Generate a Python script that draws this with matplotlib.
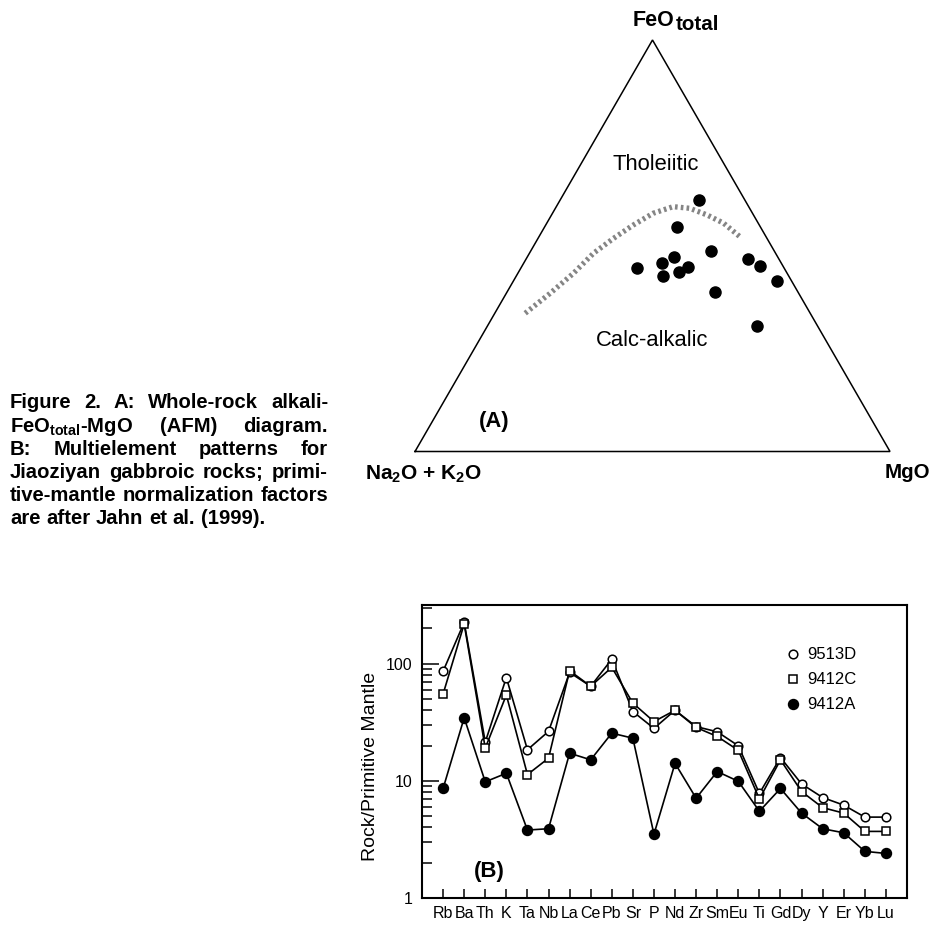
import numpy as np
import matplotlib
matplotlib.use('Agg')
import matplotlib.pyplot as plt
from matplotlib.lines import Line2D
from matplotlib.ticker import LogLocator, NullFormatter

plt.rcParams['font.family'] = ['Liberation Sans', 'DejaVu Sans']
plt.rcParams['mathtext.fontset'] = 'custom'
plt.rcParams['mathtext.rm'] = 'Liberation Sans:bold'
plt.rcParams['mathtext.it'] = 'Liberation Sans:bold'
plt.rcParams['mathtext.bf'] = 'Liberation Sans:bold'

# ---- (A) AFM diagram data, wt% normalised (alkali, FeO total, MgO) ----
afm_alk = [9.7, 17.5, 13.3, 31.0, 25.1, 21.8, 26.5, 22.5, 20.0, 6.6, 4.8, 3.0, 17.4, 12.7]
afm_feo = [61.1, 54.5, 48.8, 44.7, 45.7, 47.3, 42.6, 43.7, 44.9, 46.7, 45.1, 41.4, 38.7, 30.5]
afm_mgo = [29.2, 28.0, 37.9, 24.3, 29.2, 30.9, 30.9, 33.8, 35.1, 46.7, 50.1, 55.6, 43.9, 56.8]

# tholeiitic / calc-alkalic boundary
bnd_alk = [60.0, 52.4, 45.0, 38.3, 32.3, 26.6, 20.9, 15.9, 12.6, 9.8, 7.3, 5.5]
bnd_feo = [33.6, 38.4, 43.3, 48.2, 51.8, 55.0, 57.9, 59.5, 59.1, 57.5, 55.5, 52.2]
bnd_mgo = [6.4, 9.2, 11.7, 13.5, 15.9, 18.4, 21.2, 24.6, 28.3, 32.7, 37.2, 42.3]

# ---- (B) primitive-mantle normalised patterns ----
elements = ['Rb', 'Ba', 'Th', 'K', 'Ta', 'Nb', 'La', 'Ce', 'Pb', 'Sr', 'P',
            'Nd', 'Zr', 'Sm', 'Eu', 'Ti', 'Gd', 'Dy', 'Y', 'Er', 'Yb', 'Lu']
s9513D = [86, 225, 21.4, 76, 18.4, 26.4, 84, 64, 109, 39, 28,
          40, 29, 26.2, 19.9, 7.8, 15.8, 9.4, 7.2, 6.2, 4.9, 4.9]
s9412C = [55, 218, 19, 54, 11.3, 15.6, 87, 64, 93, 46, 32,
          40, 28.5, 23.9, 18.2, 7.0, 15.1, 8.1, 5.9, 5.3, 3.7, 3.7]
s9412A = [8.6, 34.5, 9.8, 11.6, 3.8, 3.9, 17.2, 15.1, 25.5, 23.1, 3.5,
          14.1, 7.1, 12.0, 9.9, 5.5, 8.6, 5.3, 3.9, 3.6, 2.5, 2.4]

caption = ['Figure 2. A: Whole-rock alkali-',
           'FeO$_{total}$-MgO (AFM) diagram.',
           'B: Multielement patterns for',
           'Jiaoziyan gabbroic rocks; primi-',
           'tive-mantle normalization factors',
           'are after Jahn et al. (1999).']


def ternary(a, f, m):
    a, f, m = np.asarray(a, float), np.asarray(f, float), np.asarray(m, float)
    s = a + f + m
    f, m = f / s, m / s
    return m + f / 2, f * np.sqrt(3) / 2


W, H = 934, 925
fig = plt.figure(figsize=(W / 100, H / 100), dpi=100)

# pixel overlay for caption and labels
ax_bg = fig.add_axes([0, 0, 1, 1])
ax_bg.set_xlim(0, W)
ax_bg.set_ylim(H, 0)
ax_bg.axis('off')
renderer = fig.canvas.get_renderer()

# justified caption
cap_fs = 14.6
x0, x1, y0, dy = 10, 328, 408.3, 23.2
for i, line in enumerate(caption):
    words = line.split(' ')
    arts = [ax_bg.text(0, y0 + i * dy, w, fontsize=cap_fs, fontweight='bold',
                       ha='left', va='baseline') for w in words]
    widths = [a.get_window_extent(renderer).width for a in arts]
    if i == len(caption) - 1:
        gap = 0.278 * cap_fs * 100 / 72
    else:
        gap = (x1 - x0 - sum(widths)) / (len(words) - 1)
    x = x0
    for a, wd in zip(arts, widths):
        a.set_x(x)
        x += wd + gap

# ---- triangle ----
hgt = np.sqrt(3) / 2
ax_t = fig.add_axes([415 / W, 1 - 451.5 / H, 475 / W, 411.5 / H])
ax_t.set_xlim(0, 1)
ax_t.set_ylim(0, hgt)
ax_t.axis('off')
ax_t.plot([0, 1, 0.5, 0], [0, 0, hgt, 0], color='black', lw=1.1, clip_on=False,
          solid_joinstyle='miter')
bx, by = ternary(bnd_alk, bnd_feo, bnd_mgo)
ax_t.plot(bx, by, color='#858585', lw=3.8, linestyle=(0, (0.5, 0.6)), clip_on=False)
px, py = ternary(afm_alk, afm_feo, afm_mgo)
ax_t.plot(px, py, 'o', color='black', ms=8, clip_on=False)

ax_bg.text(656, 165, 'Tholeiitic', fontsize=15.8, ha='center', va='center')
ax_bg.text(652.3, 341, 'Calc-alkalic', fontsize=15.8, ha='center', va='center')
ax_bg.text(494.3, 422, '(A)', fontsize=15.8, fontweight='bold', ha='center', va='center')
t_fe = ax_bg.text(633, 26, 'FeO', fontsize=15.5, fontweight='bold', ha='left', va='baseline')
w_fe = t_fe.get_window_extent(renderer).width
ax_bg.text(633 + w_fe + 0.5, 30, 'total', fontsize=14.8, fontweight='bold',
           ha='left', va='baseline')
ax_bg.text(365, 480, 'Na$_2$O + K$_2$O', fontsize=15, fontweight='bold',
           ha='left', va='baseline')
ax_bg.text(885, 478.3, 'MgO', fontsize=14.8, fontweight='bold', ha='left', va='baseline')

# ---- spider diagram ----
ax_b = fig.add_axes([422 / W, 1 - 898 / H, 485 / W, 293 / H])
xs = np.arange(len(elements))
ax_b.plot(xs, s9513D, '-o', color='black', lw=1.2, ms=6.2, mfc='white', mew=1.1)
ax_b.plot(xs, s9412C, '-s', color='black', lw=1.2, ms=6, mfc='white', mew=1.1)
ax_b.plot(xs, s9412A, '-o', color='black', lw=1.2, ms=7.2)

ax_b.set_yscale('log')
ax_b.set_ylim(1, 10 ** 2.5)
ax_b.set_xlim(-1, len(elements))
ax_b.set_yticks([1, 10, 100], ['1', '10', '100'])
ax_b.yaxis.set_minor_locator(LogLocator(base=10, subs=np.arange(2, 10)))
ax_b.yaxis.set_minor_formatter(NullFormatter())
ax_b.set_xticks(xs, elements)
ax_b.tick_params(axis='y', which='major', direction='in', length=12, width=1.1,
                 labelsize=11.5, pad=7)
ax_b.tick_params(axis='y', which='minor', direction='in', length=7, width=1.1)
ax_b.tick_params(axis='x', which='major', direction='in', length=6.7, width=1.1,
                 labelsize=11.5, pad=6)
for sp in ax_b.spines.values():
    sp.set_linewidth(1.5)
ax_b.set_ylabel('Rock/Primitive Mantle', fontsize=14)
ax_b.yaxis.set_label_coords(-0.089, 0.45)

handles = [Line2D([], [], ls='none', marker='o', color='black', mfc='white', ms=6.2, mew=1.1),
           Line2D([], [], ls='none', marker='s', color='black', mfc='white', ms=6, mew=1.1),
           Line2D([], [], ls='none', marker='o', color='black', ms=7.2)]
ax_b.legend(handles, ['9513D', '9412C', '9412A'], loc='upper left',
            bbox_to_anchor=(0.747, 0.855), frameon=False, fontsize=12,
            handlelength=1.0, handletextpad=0.4, labelspacing=0.6,
            borderaxespad=0, borderpad=0)
ax_b.text(489, 871.7, '(B)', fontsize=16, fontweight='bold', ha='center', va='center',
          transform=ax_bg.transData)

fig.savefig('out.png', dpi=100)
